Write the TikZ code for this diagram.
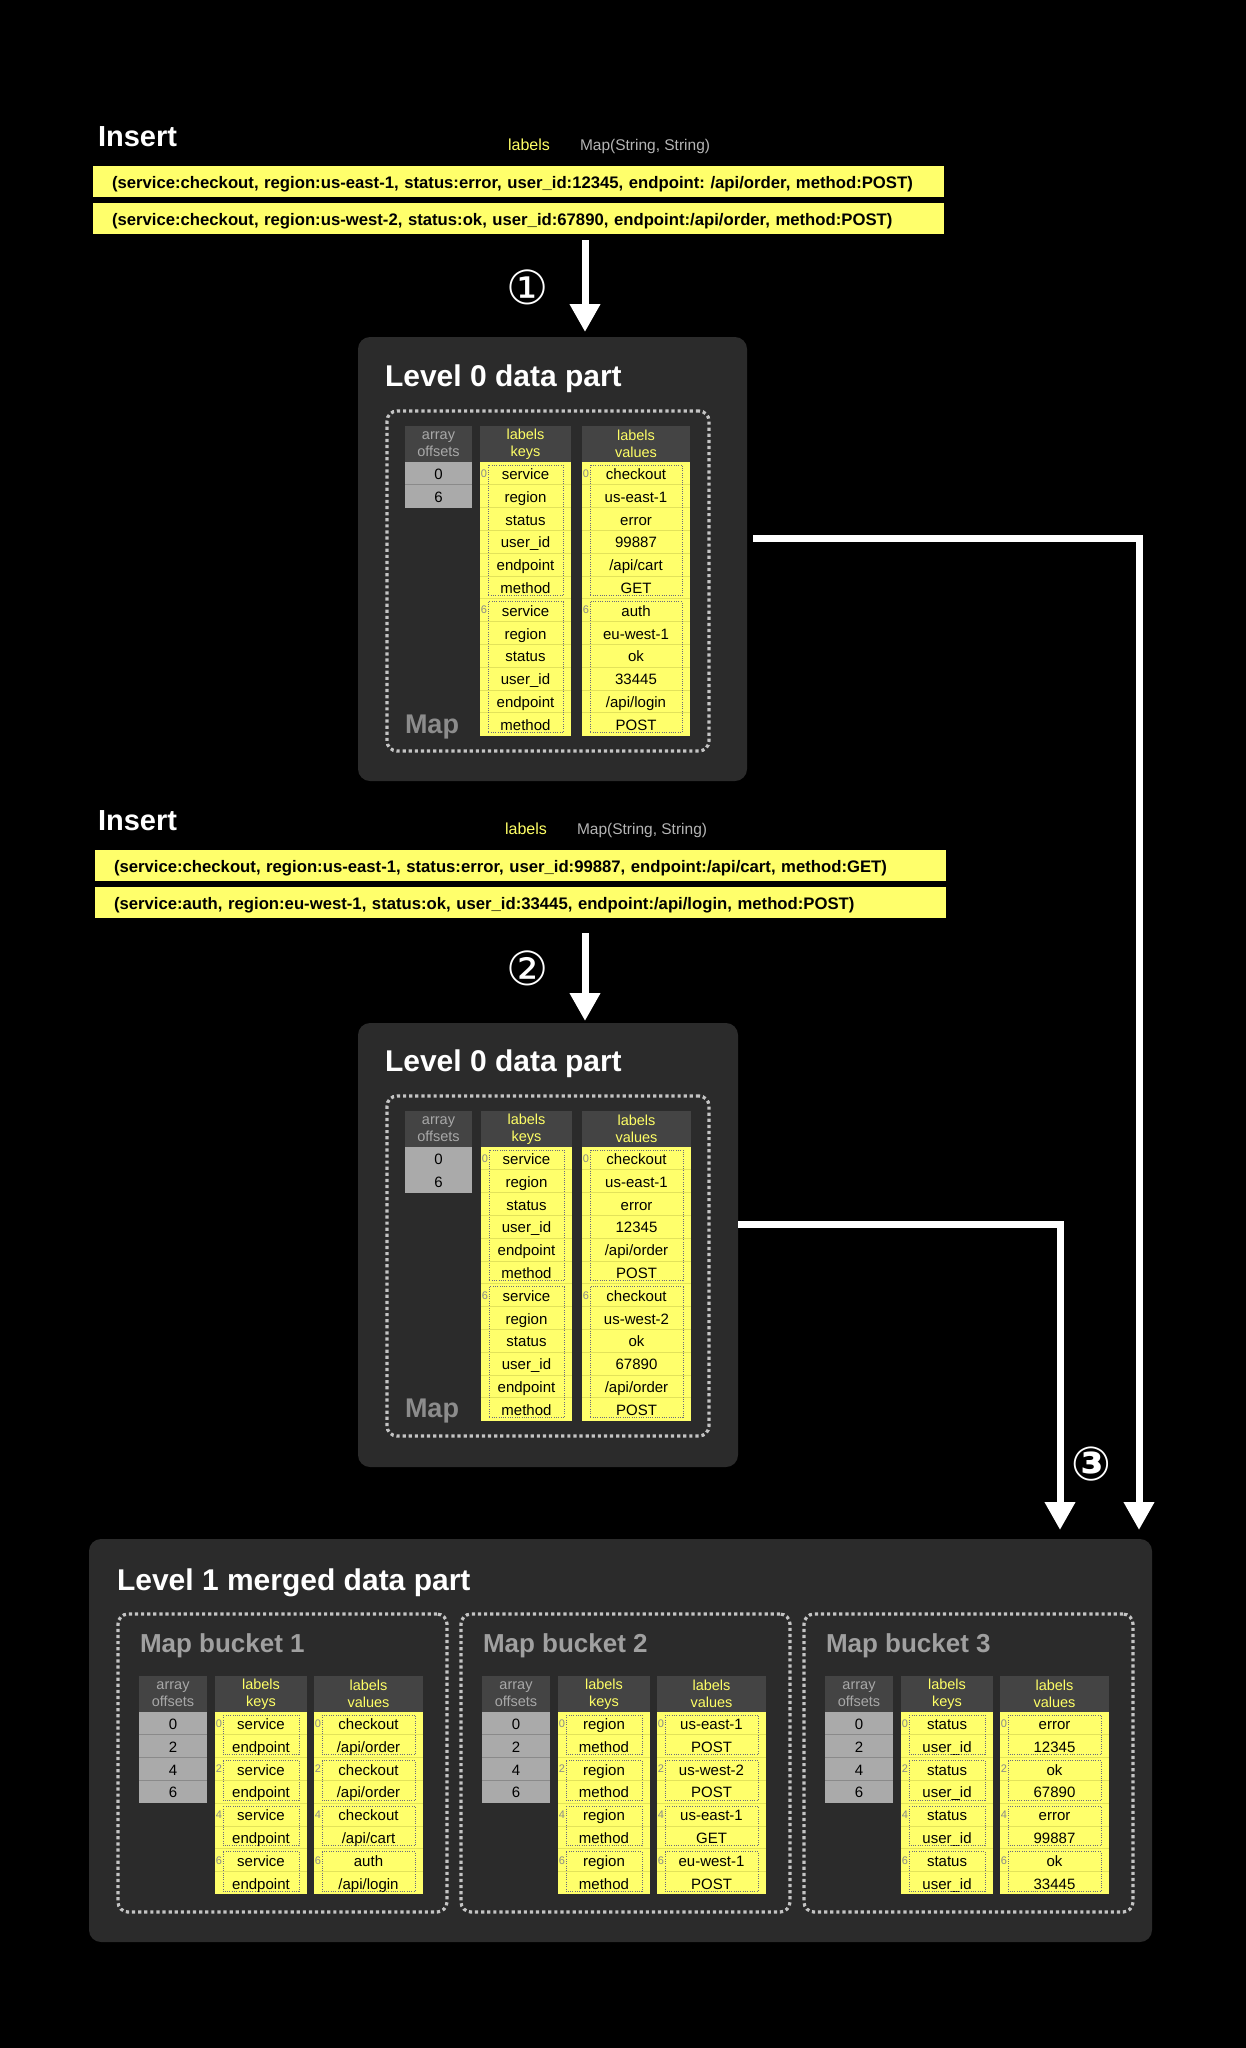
\documentclass[tikz,border=0pt]{standalone}
\usepackage{fontspec}
\setmainfont{Liberation Sans}
\newfontfamily\dejavu{DejaVu Sans}
\usetikzlibrary{arrows.meta}
\frenchspacing
\definecolor{boxbg}{HTML}{2B2B2B}
\definecolor{hdrbg}{HTML}{444444}
\definecolor{offbg}{HTML}{AAAAAA}
\definecolor{offsepc}{HTML}{8A8A8A}
\definecolor{ylw}{HTML}{FFFF6B}
\definecolor{ysepc}{HTML}{E2E25A}
\definecolor{hdrylw}{HTML}{FFFF66}
\definecolor{greytxt}{HTML}{A8A8A8}
\definecolor{dotc}{HTML}{C4C4C4}
\definecolor{innerc}{HTML}{6A6A80}
\definecolor{mapc}{HTML}{8C8C8C}
\definecolor{bkc}{HTML}{A0A0A0}
\definecolor{typec}{HTML}{B4B4B4}
\definecolor{idxc}{HTML}{8A8A8A}
\tikzset{
  every node/.style={inner sep=0pt, outer sep=0pt},
  bigbox/.style={fill=boxbg, rounded corners=12pt, anchor=north west},
  outerdot/.style={draw=dotc, line width=3.2pt, dash pattern=on 3.2pt off 2.9pt, rounded corners=10pt, anchor=north west},
  innerdot/.style={draw=innerc, line width=0.9pt, dash pattern=on 0.9pt off 1.4pt},
  bigtitle/.style={anchor=base west, text=white, font=\fontsize{30}{36}\selectfont\bfseries},
  institle/.style={anchor=base west, text=white, font=\fontsize{29}{34}\selectfont\bfseries},
  maptitle/.style={anchor=base west, text=mapc, font=\fontsize{27}{32}\selectfont\bfseries},
  bktitle/.style={anchor=base west, text=bkc, font=\fontsize{26}{31}\selectfont\bfseries},
  lbl/.style={anchor=base, text=hdrylw, font=\fontsize{16}{19}\selectfont},
  typ/.style={anchor=base west, text=typec, font=\fontsize{15.5}{19}\selectfont},
  bar/.style={fill=ylw, anchor=north west, minimum height=31pt, text width=813pt, inner xsep=19pt, align=left, text height=14pt, text depth=0pt, font=\fontsize{16.7}{19}\selectfont\bfseries},
  hdr/.style={fill=hdrbg, anchor=north west, minimum height=36pt, align=center, font=\fontsize{14.5}{17}\selectfont},
  ycell/.style={fill=ylw, anchor=north west, minimum height=22.8pt, text height=12pt, text depth=0pt, font=\fontsize{15}{18}\selectfont},
  ocell/.style={fill=offbg, anchor=north west, minimum height=22.8pt, text height=12pt, text depth=0pt, font=\fontsize{15}{18}\selectfont},
  ysep/.style={draw=ysepc, line width=0.8pt},
  osepl/.style={draw=offsepc, line width=1pt},
  idx/.style={text=idxc, font=\fontsize{11}{13}\selectfont},
  bigarrow/.style={draw=white, line width=7pt, -{Triangle[width=29pt,length=28pt]}},
  circnum/.style={text=white, font=\dejavu\fontsize{47}{52}\selectfont},
}
% offsets column: prefix, x, header top, width, list
\newcommand\offcol[5]{%
  \node[hdr, minimum width=#4, text=greytxt] (#1-h) at (#2,#3) {array\\offsets};
  \foreach \t [count=\i from 0] in {#5}{\node[ocell, minimum width=#4] (#1-\i) at (#2,{#3+36+\i*22.8}) {\t};}
}
% labels column: prefix, x, header top, width, 2nd header line, rows, group size, list
\newcommand\ycol[8]{%
  \node[hdr, minimum width=#4, text=hdrylw] (#1-h) at (#2,#3) {labels\\#5};
  \foreach \t [count=\i from 0] in {#8}{\node[ycell, minimum width=#4] (#1-\i) at (#2,{#3+36+\i*22.8}) {\t};}
  \pgfmathtruncatemacro\mylastrow{#6-1}
  \foreach \i in {1,...,\mylastrow}{\draw[ysep] (#1-\i.north west) -- (#1-\i.north east);}
  \pgfmathtruncatemacro\myngroups{#6/#7-1}
  \foreach \g in {0,...,\myngroups}{
    \pgfmathtruncatemacro\mygi{\g*#7}
    \pgfmathtruncatemacro\myge{\g*#7+#7-1}
    \draw[innerdot] ([xshift=8pt,yshift=-3pt]#1-\mygi.north west) rectangle ([xshift=-8pt,yshift=3pt]#1-\myge.south east);
    \node[idx] (#1-i\mygi) at ([xshift=4pt]#1-\mygi.west) {\mygi};
  }
}
\begin{document}
\begin{tikzpicture}[x=1pt,y=-1pt]
\useasboundingbox (0,0) rectangle (1246,2048);
\fill[black] (0,0) rectangle (1246,2048);
\coordinate (ax) at (585,0);
% ---------- Insert 1
\node[institle] (ins1) at (98,146) {Insert};
\node[lbl] (lb1) at (529,150) {labels};
\node[typ] (ty1) at (580,150) {Map(String, String)};
\node[bar] (bar1) at (93,166) {(service:checkout, region:us-east-1, status:error, user\_id:12345, endpoint: /api/order, method:POST)};
\node[bar] (bar2) at (93,203) {(service:checkout, region:us-west-2, status:ok, user\_id:67890, endpoint:/api/order, method:POST)};
% ---------- Level 0 part 1
\node[bigbox, minimum width=389pt, minimum height=444pt] (p1box) at (358,337) {};
\node[bigtitle] (p1t) at (385,386) {Level 0 data part};
\node[outerdot, minimum width=322pt, minimum height=340pt] (p1map) at (387,411) {};
\offcol{p1o}{405}{426}{67pt}{0,6}
\draw[osepl] (p1o-1.north west) -- (p1o-1.north east);
\ycol{p1k}{480}{426}{91pt}{keys}{12}{6}{service,region,status,user\_id,endpoint,method,service,region,status,user\_id,endpoint,method}
\ycol{p1v}{582}{426}{108pt}{values}{12}{6}{checkout,us-east-1,error,99887,{/api/cart},GET,auth,eu-west-1,ok,33445,{/api/login},POST}
\node[maptitle] (p1m) at (405,733) {Map};
\draw[bigarrow, shorten <=6pt, shorten >=5pt] (bar2.south -| ax) -- (p1box.north -| ax);
\node[circnum] (c1) at (528,287) {①};
% ---------- Insert 2
\node[institle] (ins2) at (98,830) {Insert};
\node[lbl] (lb2) at (526,834) {labels};
\node[typ] (ty2) at (577,834) {Map(String, String)};
\node[bar] (bar3) at (95,850) {(service:checkout, region:us-east-1, status:error, user\_id:99887, endpoint:/api/cart, method:GET)};
\node[bar] (bar4) at (95,887) {(service:auth, region:eu-west-1, status:ok, user\_id:33445, endpoint:/api/login, method:POST)};
% ---------- Level 0 part 2
\node[bigbox, minimum width=380pt, minimum height=444pt] (p2box) at (358,1023) {};
\node[bigtitle] (p2t) at (385,1071) {Level 0 data part};
\node[outerdot, minimum width=322pt, minimum height=340pt] (p2map) at (387,1096) {};
\offcol{p2o}{405}{1111}{67pt}{0,6}
\ycol{p2k}{481}{1111}{91pt}{keys}{12}{6}{service,region,status,user\_id,endpoint,method,service,region,status,user\_id,endpoint,method}
\ycol{p2v}{582}{1111}{109pt}{values}{12}{6}{checkout,us-east-1,error,12345,{/api/order},POST,checkout,us-west-2,ok,67890,{/api/order},POST}
\node[maptitle] (p2m) at (405,1417) {Map};
\draw[bigarrow, shorten <=15pt, shorten >=2pt] (bar4.south -| ax) -- (p2box.north -| ax);
\node[circnum] (c2) at (528,968) {②};
% ---------- Level 1
\node[bigbox, minimum width=1063pt, minimum height=403pt] (l1box) at (89,1539) {};
\node[bigtitle] (l1t) at (117,1590) {Level 1 merged data part};
% bucket 1
\node[outerdot, minimum width=329pt, minimum height=298pt] (bk1) at (118,1614) {};
\node[bktitle] (bk1t) at (140,1652) {Map bucket 1};
\offcol{b1o}{139}{1676}{68pt}{0,2,4,6}
\foreach \i in {1,2,3}{\draw[osepl] (b1o-\i.north west) -- (b1o-\i.north east);}
\ycol{b1k}{215}{1676}{92pt}{keys}{8}{2}{service,endpoint,service,endpoint,service,endpoint,service,endpoint}
\ycol{b1v}{314}{1676}{109pt}{values}{8}{2}{checkout,{/api/order},checkout,{/api/order},checkout,{/api/cart},auth,{/api/login}}
% bucket 2
\node[outerdot, minimum width=329pt, minimum height=298pt] (bk2) at (461,1614) {};
\node[bktitle] (bk2t) at (483,1652) {Map bucket 2};
\offcol{b2o}{482}{1676}{68pt}{0,2,4,6}
\foreach \i in {1,2,3}{\draw[osepl] (b2o-\i.north west) -- (b2o-\i.north east);}
\ycol{b2k}{558}{1676}{92pt}{keys}{8}{2}{region,method,region,method,region,method,region,method}
\ycol{b2v}{657}{1676}{109pt}{values}{8}{2}{us-east-1,POST,us-west-2,POST,us-east-1,GET,eu-west-1,POST}
% bucket 3
\node[outerdot, minimum width=329pt, minimum height=298pt] (bk3) at (804,1614) {};
\node[bktitle] (bk3t) at (826,1652) {Map bucket 3};
\offcol{b3o}{825}{1676}{68pt}{0,2,4,6}
\foreach \i in {1,2,3}{\draw[osepl] (b3o-\i.north west) -- (b3o-\i.north east);}
\ycol{b3k}{901}{1676}{92pt}{keys}{8}{2}{status,user\_id,status,user\_id,status,user\_id,status,user\_id}
\ycol{b3v}{1000}{1676}{109pt}{values}{8}{2}{error,12345,ok,67890,error,99887,ok,33445}
% ---------- merge arrows
\coordinate (r1) at (1139,538);
\coordinate (r2) at (1060,1224);
\draw[bigarrow, shorten <=6pt, shorten >=9pt] (p1box.east |- r1) -- (r1) -- (r1 |- l1box.north);
\draw[bigarrow, shorten >=9pt] (p2box.east |- r2) -- (r2) -- (r2 |- l1box.north);
\node[circnum, font=\dejavu\bfseries\fontsize{47}{52}\selectfont] (c3) at (1091,1464) {③};
\end{tikzpicture}
\end{document}
